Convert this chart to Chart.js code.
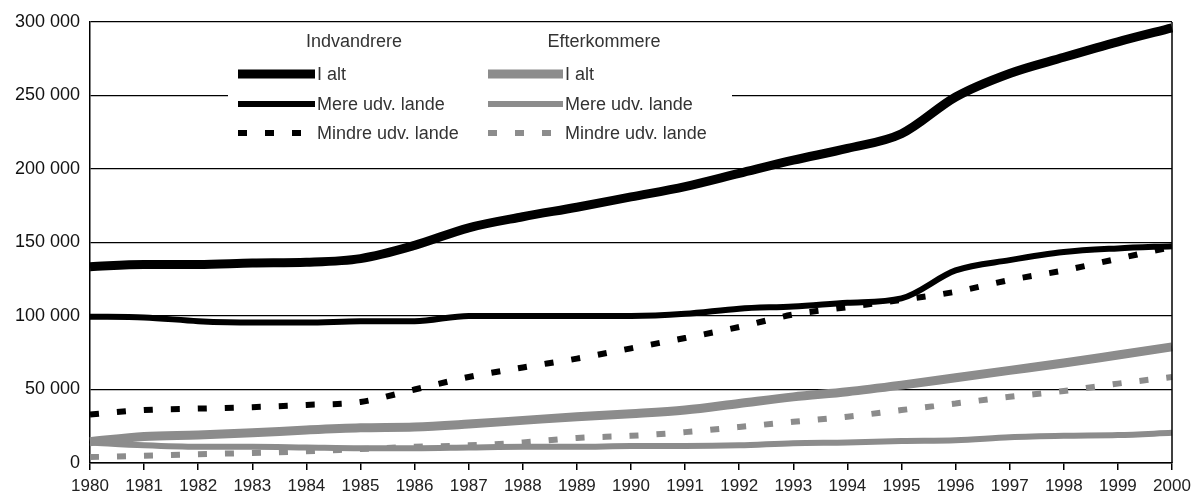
<!DOCTYPE html>
<html lang="da">
<head>
<meta charset="utf-8">
<title>Indvandrere og efterkommere 1980-2000</title>
<script src="https://cdn.jsdelivr.net/npm/chart.js@4.4.1/dist/chart.umd.min.js"></script>
<style>
    html, body { margin: 0; padding: 0; background: #fff; }
    #wrap { width: 1194px; height: 498px; }
</style>
</head>
<body>
<div id="wrap"><canvas id="lineChart" width="1194" height="498"></canvas></div>
<script>
// Data
const years = ['1980', '1981', '1982', '1983', '1984', '1985', '1986', '1987', '1988', '1989', '1990',
    '1991', '1992', '1993', '1994', '1995', '1996', '1997', '1998', '1999', '2000'];

const indvIalt = [133500, 135000, 135000, 136000, 136500, 139000, 148000, 160000, 167500, 174000, 181000,
    188000, 197000, 206000, 214000, 224000, 249000, 265000, 276000, 286500, 296000];
const indvMere = [99500, 99000, 96500, 95500, 95500, 96500, 96500, 100000, 100000, 100000, 100000,
    101500, 105000, 106500, 109000, 112000, 131000, 138000, 143500, 146000, 147500];
const indvMindre = [33000, 36000, 37000, 38000, 39500, 41500, 50000, 58500, 65000, 71000, 78000,
    85000, 92500, 101000, 106000, 111000, 116500, 124500, 131000, 139000, 147000];

const eftIalt = [14500, 18000, 19000, 20500, 22500, 24000, 24500, 26500, 29000, 31500, 33500,
    36000, 40500, 45000, 48500, 53000, 58000, 63000, 68000, 73500, 79000];
const eftMere = [14000, 12000, 11000, 11000, 10500, 10000, 10000, 10500, 11000, 11000, 11500,
    11500, 12000, 13500, 14000, 15000, 15500, 17500, 18500, 19000, 20500];
const eftMindre = [4000, 5000, 6000, 6800, 8000, 9500, 11000, 12000, 14000, 17000, 18500,
    21000, 24500, 28000, 31500, 36000, 40500, 45000, 49000, 54000, 58500];

const groupNames = ['Indvandrere', 'Efterkommere'];
const seriesNames = ['I alt', 'Mere udv. lande', 'Mindre udv. lande'];

const FONT = "'Liberation Sans', Arial, sans-serif";
const BLACK = '#000000';
const GREY = '#8c8c8c';
const DASH = [9, 18];

function makeSet(label, data, color, width, dash) {
    return {
        label: label,
        data: data,
        borderColor: color,
        backgroundColor: color,
        borderWidth: width,
        borderDash: dash || [],
        borderCapStyle: 'butt',
        pointRadius: 0,
        fill: false,
        cubicInterpolationMode: 'monotone'
    };
}

// tal med mellemrum som tusindtalsseparator
function formatNumber(v) {
    return String(v).replace(/\B(?=(\d{3})+(?!\d))/g, ' ');
}

// egen forklaring i to kolonner + højre kant på plotområdet
const legendBox = {
    id: 'legendBox',
    afterDraw(chart) {
        const ctx = chart.ctx;
        const area = chart.chartArea;
        const sets = chart.data.datasets;
        const x0 = area.left;
        const y0 = area.top;

        ctx.save();
        // højre kant
        ctx.strokeStyle = '#000';
        ctx.lineWidth = 1.5;
        ctx.beginPath();
        ctx.moveTo(area.right, area.top);
        ctx.lineTo(area.right, area.bottom);
        ctx.stroke();

        // hvid baggrund bag forklaringen
        ctx.fillStyle = '#fff';
        ctx.fillRect(x0 + 138, y0 + 3, 504, 141);

        ctx.font = '18px ' + FONT;
        ctx.fillStyle = '#333';
        ctx.textBaseline = 'middle';
        ctx.textAlign = 'center';
        ctx.fillText(groupNames[0], x0 + 264, y0 + 20);
        ctx.fillText(groupNames[1], x0 + 514, y0 + 20);

        const cols = [{ x: x0 + 148, w: 77 }, { x: x0 + 398, w: 75 }];
        const rows = [y0 + 52, y0 + 82, y0 + 111];
        ctx.textAlign = 'left';
        sets.forEach((ds, i) => {
            const col = cols[Math.floor(i / 3)];
            const y = rows[i % 3];
            ctx.strokeStyle = ds.borderColor;
            ctx.lineWidth = ds.borderWidth;
            ctx.lineCap = 'butt';
            ctx.setLineDash(ds.borderDash);
            ctx.beginPath();
            ctx.moveTo(col.x, y);
            ctx.lineTo(col.x + col.w, y);
            ctx.stroke();
            ctx.setLineDash([]);
            ctx.fillStyle = '#333';
            ctx.fillText(seriesNames[i % 3], col.x + col.w + 2, y + 1);
        });
        ctx.restore();
    }
};

document.addEventListener('DOMContentLoaded', () => {
    const ctx = document.getElementById('lineChart').getContext('2d');
    new Chart(ctx, {
        type: 'line',
        data: {
            labels: years,
            datasets: [
                makeSet(groupNames[0] + ' ' + seriesNames[0], indvIalt, BLACK, 9),
                makeSet(groupNames[0] + ' ' + seriesNames[1], indvMere, BLACK, 6),
                makeSet(groupNames[0] + ' ' + seriesNames[2], indvMindre, BLACK, 6, DASH),
                makeSet(groupNames[1] + ' ' + seriesNames[0], eftIalt, GREY, 9),
                makeSet(groupNames[1] + ' ' + seriesNames[1], eftMere, GREY, 6),
                makeSet(groupNames[1] + ' ' + seriesNames[2], eftMindre, GREY, 6, DASH)
            ]
        },
        options: {
            responsive: false,
            animation: false,
            layout: { padding: { top: 22, right: 22, left: 0, bottom: 0 } },
            plugins: {
                legend: { display: false },
                tooltip: { enabled: false }
            },
            scales: {
                x: {
                    offset: false,
                    grid: {
                        drawOnChartArea: false,
                        drawTicks: true,
                        tickLength: 7,
                        color: '#000',
                        lineWidth: 1.5
                    },
                    border: { display: true, color: '#000', width: 1.5 },
                    ticks: {
                        color: '#222',
                        font: { family: FONT, size: 17 },
                        padding: 6,
                        maxRotation: 0,
                        autoSkip: false
                    },
                    afterFit(scale) {
                        scale.height = 35;
                        // lad "2000" gå ud over kanten som i originalen
                        scale.paddingRight = 0;
                    }
                },
                y: {
                    min: 0,
                    max: 300000,
                    grid: {
                        color: '#000',
                        lineWidth: 1.3,
                        drawTicks: false
                    },
                    border: { display: true, color: '#000', width: 1.5 },
                    ticks: {
                        stepSize: 50000,
                        color: '#111',
                        font: { family: FONT, size: 18 },
                        padding: 10,
                        callback: value => formatNumber(value)
                    },
                    afterFit(scale) { scale.width = 90; }
                }
            }
        },
        plugins: [legendBox]
    });
});
</script>
</body>
</html>
